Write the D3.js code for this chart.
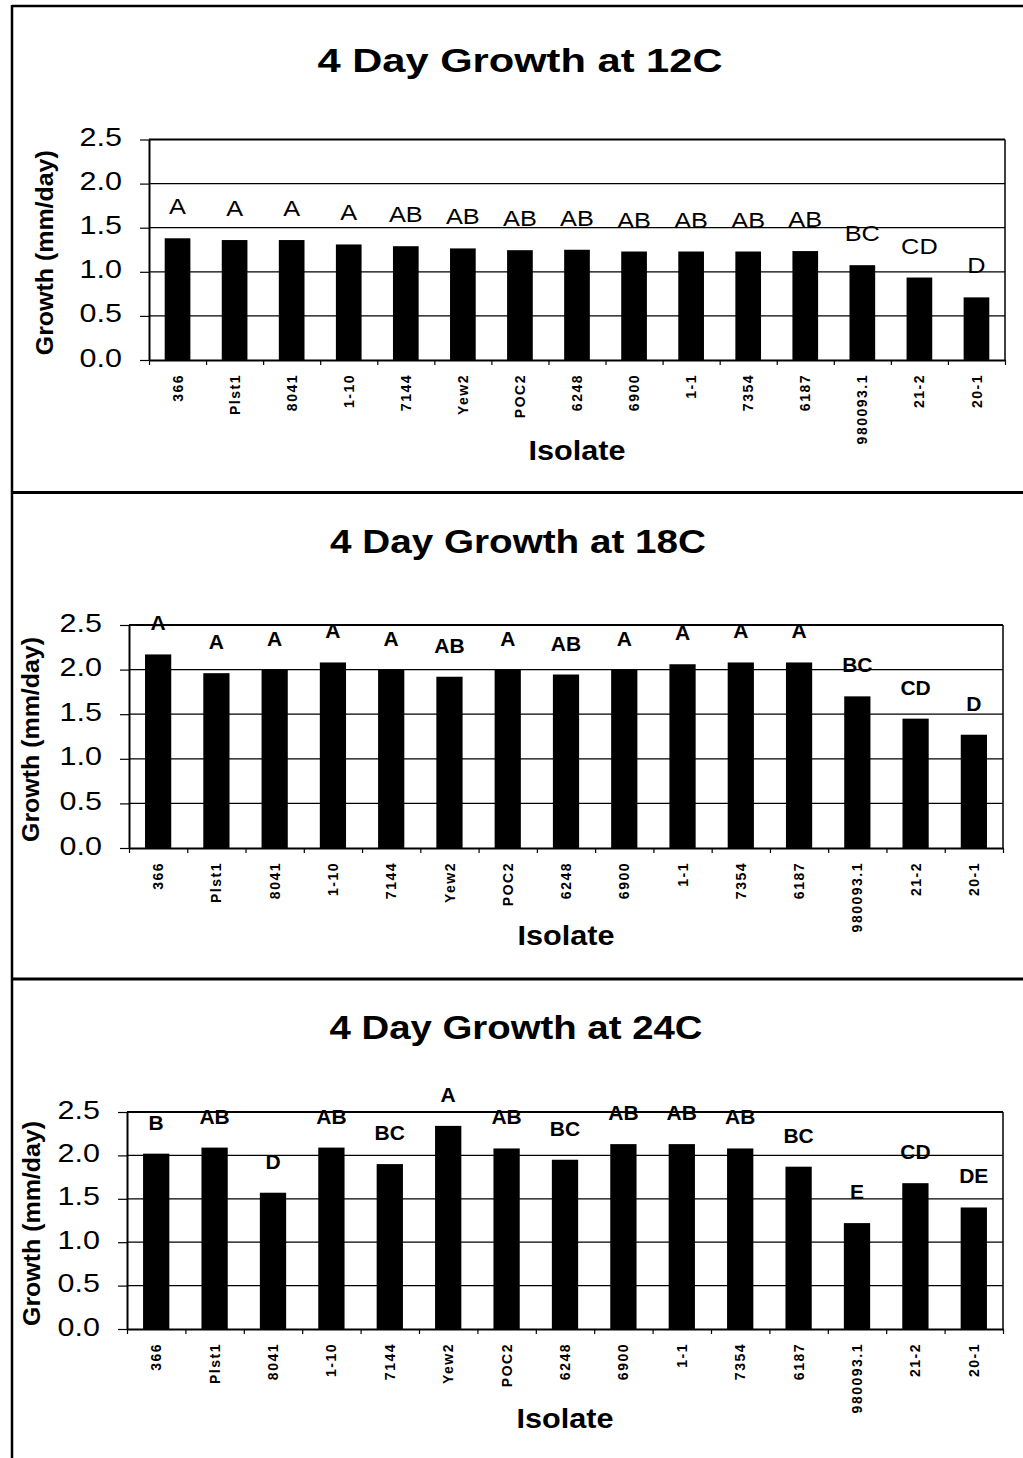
<!DOCTYPE html>
<html>
<head>
<meta charset="utf-8">
<script src="https://cdn.jsdelivr.net/npm/d3@7"></script>
<style>
  html, body { margin: 0; padding: 0; background: #fff; }
  svg { display: block; }
  text { font-family: "Liberation Sans", Arial, Helvetica, sans-serif; fill: #000; }
</style>
</head>
<body>
<svg id="chart" width="1023" height="1458"></svg>
<script>
// Isolates shown along the x axis (same order in every panel)
const isolates = ["366", "Plst1", "8041", "1-10", "7144", "Yew2", "POC2", "6248",
                  "6900", "1-1", "7354", "6187", "980093.1", "21-2", "20-1"];

// Mean growth (mm/day) after 4 days at each temperature
const growth12 = [1.38, 1.36, 1.36, 1.31, 1.29, 1.265, 1.245, 1.25, 1.23, 1.23, 1.23, 1.235, 1.075, 0.935, 0.71];
const growth18 = [2.17, 1.96, 2.00, 2.08, 2.00, 1.92, 2.00, 1.945, 2.00, 2.06, 2.08, 2.08, 1.70, 1.45, 1.27];
const growth24 = [2.02, 2.09, 1.57, 2.09, 1.90, 2.34, 2.08, 1.95, 2.13, 2.13, 2.08, 1.87, 1.22, 1.68, 1.40];

// Significance groupings printed above the bars
const letters12 = ["A", "A", "A", "A", "AB", "AB", "AB", "AB", "AB", "AB", "AB", "AB", "BC", "CD", "D"];
const letters18 = ["A", "A", "A", "A", "A", "AB", "A", "AB", "A", "A", "A", "A", "BC", "CD", "D"];
const letters24 = ["B", "AB", "D", "AB", "BC", "A", "AB", "BC", "AB", "AB", "AB", "BC", "E", "CD", "DE"];

// Panel titles and y tick values
const titles = ["4 Day Growth at 12C", "4 Day Growth at 18C", "4 Day Growth at 24C"];
const yTicks = [0, 0.5, 1.0, 1.5, 2.0, 2.5];
const yMax = 2.5;

// Layout of each panel on the page
const panels = [
  { title: titles[0], values: growth12, letters: letters12,
    x0: 149, x1: 1005, y0: 139.5, y1: 360,
    titleY: 72, titleX: 520, titleLen: 405,
    yTitleX: 45, isoY: 460, letterWeight: "normal", letterSize: 22, letterStretch: 1.15 },
  { title: titles[1], values: growth18, letters: letters18,
    x0: 129, x1: 1003, y0: 625, y1: 848,
    titleY: 553, titleX: 518, titleLen: 376,
    yTitleX: 31, isoY: 945, letterWeight: "bold", letterSize: 20, letterStretch: 1.05 },
  { title: titles[2], values: growth24, letters: letters24,
    x0: 127, x1: 1003, y0: 1112, y1: 1329,
    titleY: 1039, titleX: 516, titleLen: 373,
    yTitleX: 32, isoY: 1428, letterWeight: "bold", letterSize: 20, letterStretch: 1.05 }
];

const svg = d3.select("#chart");
svg.append("rect").attr("width", 1023).attr("height", 1458).attr("fill", "#fff");

// Stretch a text element horizontally by a factor using textLength
function stretch(sel, factor) {
  sel.each(function () {
    const len = this.getComputedTextLength();
    d3.select(this).attr("textLength", len * factor).attr("lengthAdjust", "spacingAndGlyphs");
  });
}

// Outer frame and panel separators
const frame = svg.append("g").attr("stroke", "#000").attr("fill", "none");
frame.append("line").attr("x1", 12).attr("x2", 1023).attr("y1", 6).attr("y2", 6).attr("stroke-width", 2.5);
frame.append("line").attr("x1", 12).attr("x2", 12).attr("y1", 5).attr("y2", 1458).attr("stroke-width", 2.5);
frame.append("line").attr("x1", 12).attr("x2", 1023).attr("y1", 492.5).attr("y2", 492.5).attr("stroke-width", 3);
frame.append("line").attr("x1", 12).attr("x2", 1023).attr("y1", 979).attr("y2", 979).attr("stroke-width", 3);

panels.forEach(p => {
  const g = svg.append("g");

  const x = d3.scaleBand().domain(isolates).range([p.x0, p.x1])
    .paddingInner(0.55).paddingOuter(0.275);
  const xEdges = d3.scaleLinear().domain([0, isolates.length]).range([p.x0, p.x1]);
  const y = d3.scaleLinear().domain([0, yMax]).range([p.y1, p.y0]);

  // Title
  g.append("text")
    .attr("x", p.titleX).attr("y", p.titleY)
    .attr("text-anchor", "middle")
    .attr("font-size", 33).attr("font-weight", "bold")
    .attr("textLength", p.titleLen).attr("lengthAdjust", "spacingAndGlyphs")
    .text(p.title);

  // Horizontal gridlines
  g.append("g").selectAll("line")
    .data(yTicks.filter(d => d > 0 && d < yMax))
    .join("line")
    .attr("x1", p.x0).attr("x2", p.x1)
    .attr("y1", d => y(d)).attr("y2", d => y(d))
    .attr("stroke", "#000").attr("stroke-width", 1.2);

  // Plot border: top and right
  g.append("line").attr("x1", p.x0).attr("x2", p.x1)
    .attr("y1", y(yMax)).attr("y2", y(yMax))
    .attr("stroke", "#000").attr("stroke-width", 2);
  g.append("line").attr("x1", p.x1).attr("x2", p.x1)
    .attr("y1", y(yMax)).attr("y2", y(0))
    .attr("stroke", "#000").attr("stroke-width", 1.5);

  // Bars
  g.append("g").selectAll("rect")
    .data(p.values)
    .join("rect")
    .attr("x", (d, i) => x(isolates[i]))
    .attr("width", x.bandwidth())
    .attr("y", d => y(d))
    .attr("height", d => y(0) - y(d))
    .attr("fill", "#000");

  // Grouping letters above bars
  const lbl = g.append("g").selectAll("text")
    .data(p.values)
    .join("text")
    .attr("x", (d, i) => x(isolates[i]) + x.bandwidth() / 2)
    .attr("y", d => y(d) - 24)
    .attr("text-anchor", "middle")
    .attr("font-size", p.letterSize)
    .attr("font-weight", p.letterWeight)
    .text((d, i) => p.letters[i]);
  stretch(lbl, p.letterStretch);

  // Y axis
  const yAxis = g.append("g")
    .attr("transform", `translate(${p.x0},0)`)
    .call(d3.axisLeft(y).tickValues(yTicks).tickSize(9).tickSizeOuter(0)
      .tickPadding(18).tickFormat(d3.format(".1f")));
  yAxis.select(".domain").attr("stroke", "#000").attr("stroke-width", 2);
  yAxis.selectAll(".tick line").attr("stroke", "#000").attr("stroke-width", 1.2);
  const yLab = yAxis.selectAll(".tick text")
    .attr("font-size", 25).attr("font-family", null).attr("fill", "#000")
    .attr("dy", "0.32em").attr("y", -2);
  stretch(yLab, 1.22);

  // X axis: boundary ticks
  const xTicks = g.append("g")
    .attr("transform", `translate(0,${p.y1})`)
    .call(d3.axisBottom(xEdges).ticks(isolates.length).tickSize(5).tickSizeOuter(0)
      .tickFormat(""));
  xTicks.select(".domain").attr("stroke", "#000").attr("stroke-width", 2);
  xTicks.selectAll(".tick line").attr("stroke", "#000").attr("stroke-width", 1.2);

  // X axis: isolate names, rotated
  const xAxis = g.append("g")
    .attr("transform", `translate(0,${p.y1})`)
    .call(d3.axisBottom(x).tickSize(0).tickSizeOuter(0));
  xAxis.select(".domain").remove();
  xAxis.selectAll(".tick text")
    .attr("font-family", null).attr("fill", "#000")
    .attr("font-size", 14).attr("font-weight", "bold")
    .attr("letter-spacing", "1.5px")
    .attr("transform", "rotate(-90)")
    .attr("text-anchor", "end")
    .attr("x", -14).attr("y", 0).attr("dy", "0.36em");

  // Axis titles
  g.append("text")
    .attr("transform", `translate(${p.yTitleX},${(p.y0 + p.y1) / 2 + 3}) rotate(-90)`)
    .attr("text-anchor", "middle").attr("dominant-baseline", "central")
    .attr("font-size", 23).attr("font-weight", "bold")
    .attr("textLength", 205).attr("lengthAdjust", "spacingAndGlyphs")
    .text("Growth (mm/day)");

  g.append("text")
    .attr("x", (p.x0 + p.x1) / 2).attr("y", p.isoY)
    .attr("text-anchor", "middle")
    .attr("font-size", 28).attr("font-weight", "bold")
    .attr("textLength", 97).attr("lengthAdjust", "spacingAndGlyphs")
    .text("Isolate");
});
</script>
</body>
</html>
